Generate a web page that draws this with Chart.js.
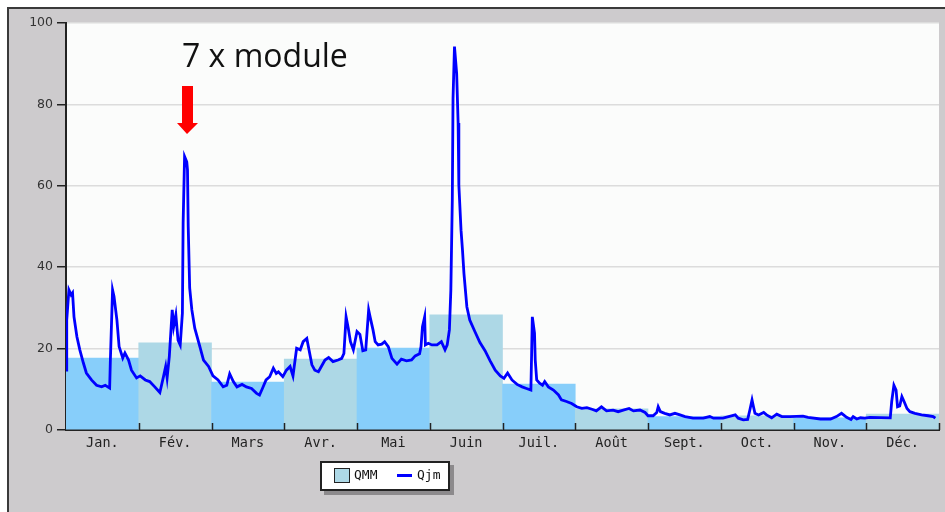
<!DOCTYPE html>
<html>
<head>
<meta charset="utf-8">
<script src="https://cdn.jsdelivr.net/npm/chart.js@4.4.1/dist/chart.umd.min.js"></script>
<style>
  html,body{margin:0;padding:0;background:#fff;}
  #wrap{position:relative;width:945px;height:512px;overflow:hidden;}
  #frame{position:absolute;left:7px;top:7px;right:0;bottom:0;background:#cdcbcd;border-left:2px solid #3a3a3a;border-top:2px solid #3a3a3a;}
  #c{position:absolute;left:0;top:0;}
  #note{position:absolute;left:182px;top:33px;font:32px "Open Sans",sans-serif;color:#111;white-space:nowrap;}
  #arrow{position:absolute;left:176px;top:86px;}
  #legend{position:absolute;left:320px;top:461px;width:126px;height:26px;background:#fff;border:2px solid #222;box-shadow:4px 4px 0 #8c8a8c;font:13px "DejaVu Sans Mono",monospace;color:#111;}
  #legend .sw{position:absolute;left:12px;top:5px;width:14px;height:13px;background:#add8e6;border:1.5px solid #222;}
  #legend .t1{position:absolute;left:32px;top:4px;}
  #legend .ln{position:absolute;left:75px;top:11px;width:15px;height:3px;background:#0000ff;}
  #legend .t2{position:absolute;left:95px;top:4px;}
</style>
</head>
<body>
<div id="wrap">
  <div id="frame"></div>
  <canvas id="c" width="945" height="512"></canvas>
  <div id="note">7 x module</div>
  <svg id="arrow" width="24" height="50"><polygon points="6,0 17,0 17,37 22,37 11,48 1,37 6,37" fill="#ff0000"/></svg>
  <div id="legend"><span class="sw"></span><span class="t1">QMM</span><span class="ln"></span><span class="t2">Qjm</span></div>
</div>
<script>
// ── Débits : QMM (moyennes mensuelles) + Qjm (journaliers) ──
var months = ['Jan.','Fév.','Mars','Avr.','Mai','Juin','Juil.','Août','Sept.','Oct.','Nov.','Déc.'];
var qmm = [17.7,21.4,11.8,17.4,20.1,28.3,11.3,5.2,3.3,3.5,3.0,3.9];
var yTicks = [0,20,40,60,80,100];

// position in months (0 = 1er janvier, 12 = fin décembre)
var qjmPos = [0.00,0.01,0.04,0.07,0.09,0.11,0.15,0.19,0.24,0.28,0.35,0.42,0.49,0.54,0.60,0.61,0.64,0.66,0.70,0.73,0.78,0.81,0.86,0.90,0.97,
  1.02,1.09,1.15,1.22,1.29,1.34,1.37,1.39,1.42,1.46,1.48,1.51,1.54,1.57,1.60,1.61,1.63,1.66,1.67,1.68,1.70,1.73,1.77,1.84,1.89,1.96,
  2.02,2.09,2.16,2.21,2.25,2.30,2.35,2.42,2.48,2.55,2.62,2.66,2.70,2.75,2.80,2.85,2.89,2.92,2.98,
  3.03,3.08,3.12,3.17,3.22,3.26,3.31,3.34,3.38,3.42,3.47,3.51,3.56,3.61,3.67,3.74,3.79,3.82,3.85,3.88,3.91,3.95,4.00,
  4.04,4.08,4.12,4.16,4.18,4.22,4.25,4.29,4.34,4.38,4.43,4.48,4.55,4.61,4.68,4.75,4.80,4.86,4.88,4.90,4.93,4.94,4.98,
  5.03,5.10,5.16,5.21,5.24,5.27,5.29,5.31,5.32,5.34,5.37,5.39,5.40,5.43,5.45,5.47,5.51,5.55,5.62,5.69,5.76,5.83,5.90,5.97,
  6.02,6.07,6.13,6.20,6.27,6.33,6.39,6.40,6.41,6.44,6.45,6.47,6.51,6.55,6.58,6.63,6.70,6.77,6.81,6.88,6.95,
  7.02,7.09,7.16,7.23,7.29,7.36,7.43,7.52,7.59,7.66,7.74,7.80,7.89,7.96,
  8.00,8.07,8.12,8.14,8.17,8.23,8.30,8.37,8.44,8.51,8.62,8.76,8.85,8.90,
  9.03,9.20,9.24,9.31,9.37,9.40,9.43,9.45,9.47,9.52,9.59,9.63,9.70,9.77,9.84,9.95,
  10.13,10.20,10.37,10.51,10.59,10.66,10.73,10.79,10.82,10.87,10.92,10.98,
  11.05,11.33,11.35,11.38,11.41,11.43,11.46,11.49,11.52,11.56,11.60,11.67,11.76,11.85,11.92,11.95];
var qjm = [14.7,27,34.4,33.2,33.7,27.8,22.9,19.7,16.4,14,12.3,11,10.6,11,10.3,17.2,34.4,32.8,27,20.5,17.7,18.9,17.2,14.7,12.8,
  13.3,12.3,11.9,10.6,9.2,13.1,15.6,12.8,18,29.5,25.4,28.3,22.1,20.9,28.7,50.9,67.2,65.9,63.9,50,34.9,29.5,25,20.5,17.2,15.6,
  13.3,12.3,10.6,11,13.8,11.9,10.6,11.2,10.6,10.2,9.0,8.6,10.2,12.3,13.1,15.2,13.9,14.3,13.1,
  14.7,15.6,13.3,20.1,19.7,21.7,22.5,19.7,16,14.7,14.3,15.6,17.2,17.8,16.8,17.2,17.6,18.8,27.8,25,21.7,19.7,24.2,
  23.5,19.5,19.7,29.5,27.8,24.6,21.7,20.9,21.1,21.7,20.5,17.6,16.2,17.4,17,17.2,18.2,18.7,20.5,25.4,27.8,20.9,21.3,
  20.9,20.9,21.7,19.7,20.9,24.6,34.4,56.5,81.5,94.2,87.6,75.4,60.2,49.1,44.2,38.5,30.3,27,24.2,21.5,19.5,17,14.7,13.3,
  12.7,14,12.3,11.2,10.6,10.2,9.8,18.4,27.8,23.8,17.2,12.3,11.5,11,11.9,10.6,9.8,8.6,7.4,7,6.5,
  5.7,5.3,5.5,5.1,4.7,5.7,4.7,4.9,4.5,4.9,5.3,4.7,4.9,4.3,
  3.5,3.5,4.3,5.7,4.5,4.1,3.7,4.1,3.7,3.3,2.9,2.9,3.3,2.9,
  2.9,3.7,2.9,2.5,2.6,4.9,7.4,5.7,4.1,3.7,4.3,3.7,3.0,3.9,3.3,3.3,
  3.4,3.1,2.7,2.7,3.3,4.1,3.1,2.6,3.3,2.7,3.0,2.9,
  3.1,3.0,7,11,9.8,5.7,5.9,8.2,7,5.3,4.5,4.1,3.7,3.5,3.3,2.9];

var barColors = qmm.map(function(v,i){ return i%2 ? '#add8e6' : '#87cefa'; });

// fond de la zone de tracé + petites graduations des mois (vers l'intérieur)
var plotBg = {
  id:'plotBg',
  beforeDraw:function(chart){
    var a = chart.chartArea, ctx = chart.ctx;
    ctx.save(); ctx.fillStyle = '#fbfcfb';
    ctx.fillRect(a.left, a.top, a.right-a.left, a.bottom-a.top);
    ctx.restore();
  },
  afterDraw:function(chart){
    var sx = chart.scales.x, ctx = chart.ctx, b = chart.chartArea.bottom;
    ctx.save(); ctx.strokeStyle = '#222'; ctx.lineWidth = 1.5;
    for(var i=1;i<=months.length;i++){
      var px = Math.round(sx.getPixelForValue(i)) + 0.5;
      ctx.beginPath(); ctx.moveTo(px, b); ctx.lineTo(px, b-7); ctx.stroke();
    }
    ctx.restore();
  }
};

new Chart(document.getElementById('c'), {
  data:{
    datasets:[
      {type:'line', label:'Qjm', data:qjmPos.map(function(x,i){return {x:x,y:qjm[i]};}),
        borderColor:'#0000ff', borderWidth:2.8, pointRadius:0, tension:0, order:1},
      {type:'bar', label:'QMM', data:qmm.map(function(v,i){return {x:i+0.5,y:v};}),
        backgroundColor:barColors, borderWidth:0, barPercentage:1, categoryPercentage:1, order:2}
    ]
  },
  options:{
    responsive:false, animation:false,
    layout:{padding:{left:8, top:23, right:6, bottom:0}},
    plugins:{legend:{display:false}, tooltip:{enabled:false}},
    scales:{
      x:{type:'linear', min:0, max:12, offset:false,
        afterBuildTicks:function(s){ s.ticks = months.map(function(m,i){return {value:i+0.5};}); },
        afterFit:function(s){ s.height = 82; },
        ticks:{autoSkip:false, maxRotation:0, padding:5, color:'#222',
          font:{family:'"DejaVu Sans Mono", monospace', size:13.5},
          callback:function(v,i){ return months[i]; }},
        grid:{display:false, drawTicks:false, tickLength:0},
        border:{display:true, color:'#222', width:2}
      },
      y:{min:0, max:100,
        afterBuildTicks:function(s){ s.ticks = yTicks.map(function(v){return {value:v};}); },
        afterFit:function(s){ s.width = 58; },
        ticks:{padding:4, color:'#333', font:{family:'"DejaVu Sans", sans-serif', size:12.5}},
        grid:{color:function(c){ return c.tick && c.tick.value===0 ? 'rgba(0,0,0,0)' : '#dcdcdc'; },
          lineWidth:1.5, tickColor:'#222', tickLength:9, tickWidth:1.5},
        border:{display:true, color:'#222', width:2}
      }
    }
  },
  plugins:[plotBg]
});
</script>
</body>
</html>
